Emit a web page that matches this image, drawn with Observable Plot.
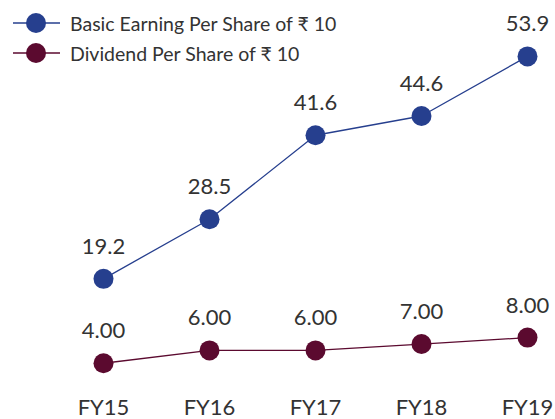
<!DOCTYPE html>
<html><head><meta charset="utf-8">
<script src="https://cdn.jsdelivr.net/npm/d3@7"></script>
<script src="https://cdn.jsdelivr.net/npm/@observablehq/plot@0.6"></script>
<style>
body{margin:0;background:#fff;font-family:Lato,"Open Sans",sans-serif}
#wrap{position:relative;width:555px;height:419px;overflow:hidden}
#legend{position:absolute;left:0;top:8px}
#legend .row{display:flex;align-items:center;height:30px}
#legend .row span{font-size:19.5px;color:#333;margin-left:10px;white-space:nowrap}
</style>
</head><body>
<div id="wrap"><div id="legend"></div><div id="chart"></div></div>
<script>
const years = ["FY15","FY16","FY17","FY18","FY19"];
const eps = [19.2, 28.5, 41.6, 44.6, 53.9];
const dps = [4.00, 6.00, 6.00, 7.00, 8.00];
const seriesNames = ["Basic Earning Per Share of \u20B9 10", "Dividend Per Share of \u20B9 10"];
const colors = ["#263f8e", "#5b0a2f"];

const epsData = years.map((y, i) => ({year: y, value: eps[i]}));
const dpsData = years.map((y, i) => ({year: y, value: dps[i]}));

// legend
const legend = document.getElementById("legend");
seriesNames.forEach((name, i) => {
  const row = document.createElement("div");
  row.className = "row";
  row.innerHTML = `<svg width="60" height="30"><line x1="13" x2="60" y1="15" y2="15" stroke="${colors[i]}" stroke-width="1.3"/><circle cx="36" cy="15" r="10" fill="${colors[i]}"/></svg><span>${name}</span>`;
  legend.appendChild(row);
});

const fontFam = "Lato, 'Open Sans', sans-serif";
const chart = Plot.plot({
  width: 555,
  height: 419,
  marginLeft: 101.7,
  marginRight: 27,
  marginTop: 16.8,
  marginBottom: 17.6,
  style: {fontFamily: fontFam, background: "transparent"},
  x: {type: "point", domain: years, padding: 0, label: null},
  y: {domain: [0, 60], axis: null},
  marks: [
    Plot.axisX({tickSize: 0, tickPadding: -2.5, fontSize: 22, fill: "#333", label: null}),
    Plot.line(epsData, {x: "year", y: "value", stroke: colors[0], strokeWidth: 1.3}),
    Plot.dot(epsData, {x: "year", y: "value", r: 10, fill: colors[0]}),
    Plot.text(epsData, {x: "year", y: "value", text: d => d.value.toFixed(1), dy: -32, fontSize: 22, fill: "#333"}),
    Plot.line(dpsData, {x: "year", y: "value", stroke: colors[1], strokeWidth: 1.3, dy: -13}),
    Plot.dot(dpsData, {x: "year", y: "value", r: 10, fill: colors[1], dy: -13}),
    Plot.text(dpsData, {x: "year", y: "value", text: d => d.value.toFixed(2), dy: -45, fontSize: 22, fill: "#333"})
  ]
});
document.getElementById("chart").appendChild(chart);
</script>
</body></html>
